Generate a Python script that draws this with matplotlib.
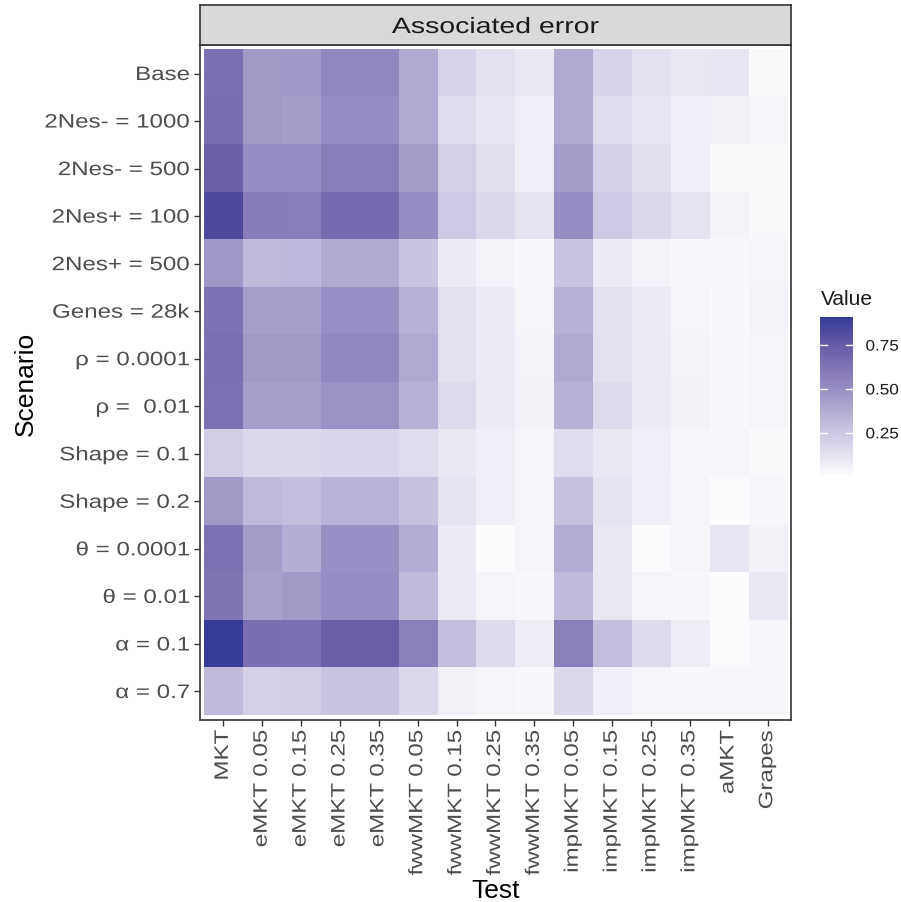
import numpy as np
import matplotlib
matplotlib.use("Agg")
import matplotlib.pyplot as plt
from matplotlib.colors import LinearSegmentedColormap, Normalize
from matplotlib.colorbar import ColorbarBase
from matplotlib.patheffects import AbstractPathEffect
from matplotlib.transforms import Affine2D

plt.rcParams['font.family'] = ['Liberation Sans', 'DejaVu Sans']

tests = ["MKT", "eMKT 0.05", "eMKT 0.15", "eMKT 0.25", "eMKT 0.35",
         "fwwMKT 0.05", "fwwMKT 0.15", "fwwMKT 0.25", "fwwMKT 0.35",
         "impMKT 0.05", "impMKT 0.15", "impMKT 0.25", "impMKT 0.35",
         "aMKT", "Grapes"]
scenarios = ["Base", "2Nes- = 1000", "2Nes- = 500", "2Nes+ = 100", "2Nes+ = 500",
             "Genes = 28k", "ρ = 0.0001", "ρ =  0.01", "Shape = 0.1", "Shape = 0.2",
             "θ = 0.0001", "θ = 0.01", "α = 0.1", "α = 0.7"]

row_base     = [0.65, 0.45, 0.46, 0.52, 0.52, 0.38, 0.19, 0.13, 0.10, 0.38, 0.19, 0.13, 0.10, 0.11, 0.02]
row_nesm1000 = [0.66, 0.45, 0.44, 0.50, 0.50, 0.38, 0.15, 0.11, 0.07, 0.38, 0.15, 0.11, 0.07, 0.06, 0.04]
row_nesm500  = [0.73, 0.50, 0.50, 0.58, 0.58, 0.44, 0.21, 0.14, 0.07, 0.44, 0.21, 0.14, 0.07, 0.02, 0.02]
row_nesp100  = [0.83, 0.59, 0.58, 0.67, 0.67, 0.50, 0.24, 0.17, 0.12, 0.50, 0.24, 0.17, 0.12, 0.05, 0.02]
row_nesp500  = [0.46, 0.31, 0.32, 0.38, 0.38, 0.27, 0.09, 0.05, 0.03, 0.27, 0.09, 0.05, 0.03, 0.025, 0.04]
row_genes    = [0.63, 0.43, 0.43, 0.49, 0.49, 0.35, 0.13, 0.09, 0.045, 0.35, 0.13, 0.09, 0.045, 0.025, 0.05]
row_rho1     = [0.65, 0.45, 0.45, 0.52, 0.52, 0.38, 0.13, 0.09, 0.05, 0.38, 0.13, 0.09, 0.05, 0.03, 0.045]
row_rho2     = [0.64, 0.43, 0.43, 0.48, 0.48, 0.35, 0.16, 0.09, 0.055, 0.35, 0.16, 0.09, 0.055, 0.03, 0.04]
row_shape1   = [0.22, 0.17, 0.17, 0.18, 0.18, 0.15, 0.10, 0.07, 0.04, 0.15, 0.10, 0.07, 0.035, 0.035, 0.015]
row_shape2   = [0.45, 0.31, 0.29, 0.34, 0.34, 0.28, 0.12, 0.07, 0.04, 0.28, 0.12, 0.07, 0.04, 0.01, 0.03]
row_theta1   = [0.64, 0.44, 0.37, 0.49, 0.49, 0.37, 0.09, 0.01, 0.045, 0.37, 0.10, 0.01, 0.045, 0.11, 0.055]
row_theta2   = [0.62, 0.42, 0.45, 0.50, 0.50, 0.31, 0.09, 0.04, 0.03, 0.31, 0.10, 0.04, 0.03, 0.01, 0.10]
row_alpha1   = [0.91, 0.66, 0.65, 0.73, 0.73, 0.57, 0.29, 0.16, 0.08, 0.57, 0.29, 0.16, 0.08, 0.01, 0.03]
row_alpha7   = [0.31, 0.21, 0.22, 0.27, 0.27, 0.17, 0.06, 0.04, 0.03, 0.17, 0.065, 0.04, 0.03, 0.03, 0.03]

values = np.array([row_base, row_nesm1000, row_nesm500, row_nesp100, row_nesp500,
                   row_genes, row_rho1, row_rho2, row_shape1, row_shape2,
                   row_theta1, row_theta2, row_alpha1, row_alpha7])

legend_ticks = [0.25, 0.50, 0.75]


class HStretch(AbstractPathEffect):
    """Draw text stretched along its reading direction."""
    def __init__(self, sx, anchor="end"):
        super().__init__()
        self.sx = sx
        self.anchor = anchor

    def draw_path(self, renderer, gc, tpath, affine, rgbFace=None):
        v = tpath.vertices
        x0 = 0.0
        if len(v):
            if self.anchor == "end":
                x0 = v[:, 0].max()
            elif self.anchor == "center":
                x0 = 0.5 * (v[:, 0].max() + v[:, 0].min())
        pre = Affine2D().translate(-x0, 0).scale(self.sx, 1.0).translate(x0, 0)
        renderer.draw_path(gc, tpath, pre + affine, rgbFace)


vmin, vmax = values.min(), values.max()
stops = [(0.01, "#fbfbfd"), (0.12, "#e6e3f1"), (0.20, "#d6d1e8"), (0.27, "#c9c3e0"),
         (0.38, "#b1aad2"), (0.45, "#a39aca"), (0.52, "#9388c1"), (0.60, "#8679b8"),
         (0.66, "#7a6db2"), (0.73, "#6a5fa8"), (0.83, "#504a9f"), (0.91, "#353b96")]
cmap = LinearSegmentedColormap.from_list(
    "assoc", [((v - vmin) / (vmax - vmin), c) for v, c in stops])
norm = Normalize(vmin=vmin, vmax=vmax)

W, H = 901, 903
fig = plt.figure(figsize=(W / 100, H / 100), dpi=100)

pl, pr, pt, pb = 200, 791, 46, 721
ax = fig.add_axes([pl / W, 1 - pb / H, (pr - pl) / W, (pb - pt) / H])
ax.imshow(values, cmap=cmap, norm=norm, aspect='auto', interpolation='nearest')
ax.set_xlim(-0.6, len(tests) - 0.4)
ax.set_ylim(len(scenarios) - 0.4, -0.6)
ax.set_xticks(range(len(tests)))
ax.set_xticklabels(tests, rotation=90, fontsize=14, color="#4d4d4d")
ax.set_yticks(range(len(scenarios)))
ax.set_yticklabels(scenarios, fontsize=14, color="#4d4d4d")
ax.tick_params(length=4, width=1, color="#333333")
ax.tick_params(axis='x', pad=3)
ax.tick_params(axis='y', pad=3)
for lab in ax.get_xticklabels() + ax.get_yticklabels():
    lab.set_path_effects([HStretch(1.24, "end")])
for s in ax.spines.values():
    s.set_color("#333333")
    s.set_linewidth(1.2)
ax.set_xlabel("Test", fontsize=19)
ax.set_ylabel("Scenario", fontsize=19)
ax.xaxis.set_label_coords(0.5, -(879 - pb) / (pb - pt))
ax.yaxis.set_label_coords(-(pl - 38) / (pr - pl), 0.5)

# strip
st, sb = 6, 46
sax = fig.add_axes([pl / W, 1 - sb / H, (pr - pl) / W, (sb - st) / H])
sax.set_facecolor("#d9d9d9")
sax.set_xticks([]); sax.set_yticks([])
for s in sax.spines.values():
    s.set_color("#333333")
    s.set_linewidth(1.2)
sax.text(0.5, 0.5, "Associated error", ha="center", va="center_baseline", fontsize=16,
         color="#1a1a1a", transform=sax.transAxes, path_effects=[HStretch(1.28, "center")])

# colorbar
cl, cr, ct, cbm = 820, 853, 318, 476
cax = fig.add_axes([cl / W, 1 - cbm / H, (cr - cl) / W, (cbm - ct) / H])
cb = ColorbarBase(cax, cmap=cmap, norm=norm, orientation='vertical')
cb.outline.set_visible(False)
cb.set_ticks(legend_ticks)
cb.set_ticklabels(["%.2f" % t for t in legend_ticks])
cax.tick_params(length=0, labelsize=11, pad=9, labelcolor="#1a1a1a")
for lab in cax.get_yticklabels():
    lab.set_path_effects([HStretch(1.12, "start")])
tr = cax.get_yaxis_transform()
for t in legend_ticks:
    cax.plot([0, 0.2], [t, t], color="white", lw=1, transform=tr)
    cax.plot([0.8, 1], [t, t], color="white", lw=1, transform=tr)
fig.text(821 / W, 1 - 300 / H, "Value", fontsize=15, va="center", ha="left", color="#1a1a1a")

fig.savefig("out.png", dpi=100)
